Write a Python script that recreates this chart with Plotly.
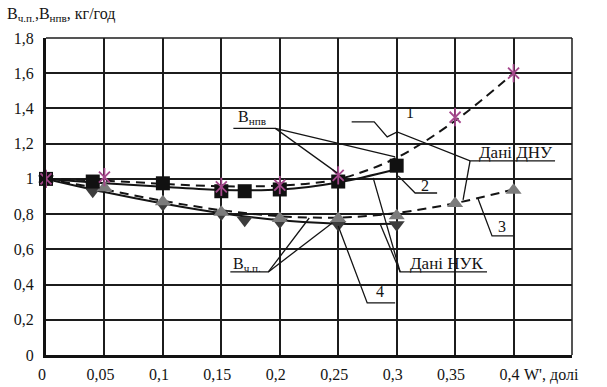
import plotly.graph_objects as go

# ---- data -----------------------------------------------------------------
# ДНУ data, B_нпв (asterisks)
W_dnu_npv = [0.0, 0.05, 0.15, 0.2, 0.25, 0.35, 0.4]
B_dnu_npv = [1.0, 1.01, 0.955, 0.965, 1.02, 1.35, 1.6]

# НУК data, B_нпв (squares)
W_nuk_npv = [0.0, 0.04, 0.1, 0.15, 0.17, 0.2, 0.25, 0.3]
B_nuk_npv = [1.0, 0.985, 0.975, 0.93, 0.93, 0.94, 0.985, 1.075]

# ДНУ data, B_ч.п. (triangles up)
W_dnu_chp = [0.0, 0.05, 0.1, 0.15, 0.2, 0.25, 0.3, 0.35, 0.4]
B_dnu_chp = [1.0, 0.95, 0.87, 0.81, 0.775, 0.775, 0.79, 0.86, 0.935]

# НУК data, B_ч.п. (triangles down)
W_nuk_chp = [0.0, 0.04, 0.1, 0.15, 0.17, 0.2, 0.25, 0.3]
B_nuk_chp = [1.0, 0.93, 0.855, 0.80, 0.765, 0.755, 0.74, 0.74]

# approximating curves 1-4
W_fit_long = [0.0, 0.05, 0.1, 0.15, 0.2, 0.25, 0.3, 0.35, 0.4]
W_fit_short = [0.0, 0.05, 0.1, 0.15, 0.2, 0.25, 0.3]
curve_1 = [1.0, 0.99, 0.972, 0.958, 0.962, 0.998, 1.12, 1.33, 1.6]
curve_2 = [1.0, 0.975, 0.955, 0.937, 0.94, 0.98, 1.055]
curve_3 = [1.0, 0.94, 0.875, 0.822, 0.788, 0.78, 0.806, 0.862, 0.94]
curve_4 = [1.0, 0.925, 0.86, 0.805, 0.765, 0.745, 0.745]

x_ticks = [0, 0.05, 0.1, 0.15, 0.2, 0.25, 0.3, 0.35, 0.4]
x_labels = ["0", "0,05", "0,1", "0,15", "0,2", "0,25", "0,3", "0,35", "0,4"]
y_ticks = [0, 0.2, 0.4, 0.6, 0.8, 1.0, 1.2, 1.4, 1.6, 1.8]
y_labels = ["0", "0,2", "0,4", "0,6", "0,8", "1", "1,2", "1,4", "1,6", "1,8"]

# ---- styling ----------------------------------------------------------------
FONT = "'Liberation Serif', 'Times New Roman', Times, serif"
INK = "#141414"
GRID = "#1c1c1c"
DASH = "9px,6px"

fig = go.Figure()

def curve(x, y, dashed):
    fig.add_trace(go.Scatter(
        x=x, y=y, mode="lines", hoverinfo="skip", cliponaxis=False,
        line=dict(color=INK, width=2, dash=DASH if dashed else "solid",
                  shape="spline", smoothing=0.9)))

curve(W_fit_long, curve_1, True)
curve(W_fit_short, curve_2, False)
curve(W_fit_long, curve_3, True)
curve(W_fit_short, curve_4, False)

def markers(x, y, symbol, color, size, width=0):
    fig.add_trace(go.Scatter(
        x=x, y=y, mode="markers", cliponaxis=False,
        marker=dict(symbol=symbol, size=size, color=color,
                    line=dict(color=color, width=width))))

markers(W_nuk_chp, B_nuk_chp, "triangle-down", "#3c3c3c", 14)
markers(W_dnu_chp, B_dnu_chp, "triangle-up", "#7b7b7b", 14)
markers(W_nuk_npv, B_nuk_npv, "square", "#111111", 14)
markers(W_dnu_npv, B_dnu_npv, "x-thin-open", "#a5488c", 11, 1.8)
markers(W_dnu_npv, B_dnu_npv, "line-ns-open", "#a5488c", 13, 1.8)

# ---- callouts: labels with underlines and leader lines -------------------
shapes = []

def seg(pts, w=1.3):
    path = "M " + " L ".join(f"{x},{y}" for x, y in pts)
    shapes.append(dict(type="path", path=path, xref="x", yref="y",
                       line=dict(color=INK, width=w), layer="above"))

# B_нпв
seg([(0.1603, 1.287), (0.1962, 1.287), (0.249, 1.034)])
seg([(0.1962, 1.287), (0.2987, 1.125)])
# B_ч.п.
seg([(0.1577, 0.4716), (0.1902, 0.4716), (0.2252, 0.778)])
seg([(0.1902, 0.4716), (0.2449, 0.75)])
# Дані НУК
seg([(0.3773, 0.4716), (0.303, 0.4716), (0.2799, 1.006)])
seg([(0.303, 0.4716), (0.2859, 0.744)])
# 4
seg([(0.2987, 0.2955), (0.2748, 0.2955), (0.25, 0.733)])
# 2
seg([(0.3346, 0.92), (0.3158, 0.92), (0.3013, 1.017)])
# 3
seg([(0.3996, 0.676), (0.3816, 0.676), (0.3697, 0.886)])
# 1 and Дані ДНУ
seg([(0.2615, 1.3239), (0.2808, 1.3239), (0.2919, 1.2386), (0.3004, 1.267),
     (0.3628, 1.1023), (0.4355, 1.1023)])
seg([(0.3628, 1.1023), (0.3568, 0.8807)])

# plot frame on the top and right
shapes.append(dict(type="line", xref="paper", yref="paper", x0=0, x1=1, y0=1, y1=1,
                   line=dict(color=GRID, width=1.5)))
shapes.append(dict(type="line", xref="paper", yref="paper", x0=1, x1=1, y0=0, y1=1,
                   line=dict(color=GRID, width=1.5)))

annotations = []

def label(x, y, text, size=16, xanchor="center"):
    annotations.append(dict(x=x, y=y, xref="x", yref="y", text=text, showarrow=False,
                            xanchor=xanchor, yanchor="middle",
                            font=dict(family=FONT, size=size, color=INK)))

label(0.1765, 1.35, "B<sub>нпв</sub>")
label(0.172, 0.515, "B<sub>ч.п.</sub>")
label(0.343, 0.52, "Дані НУК", 17)
label(0.402, 1.152, "Дані ДНУ", 17)
label(0.3115, 1.375, "1")
label(0.3244, 0.96, "2")
label(0.3902, 0.727, "3")
label(0.2859, 0.358, "4")

# axis captions
annotations.append(dict(x=-0.077, y=1.075, xref="paper", yref="paper",
                        text="B<sub>ч.п.</sub>,B<sub>нпв</sub>, кг/год", showarrow=False,
                        xanchor="left", yanchor="middle",
                        font=dict(family=FONT, size=16, color=INK)))
annotations.append(dict(x=0.905, y=-0.063, xref="paper", yref="paper",
                        text="W', долі", showarrow=False,
                        xanchor="left", yanchor="middle",
                        font=dict(family=FONT, size=16, color=INK)))

axis_common = dict(showgrid=True, gridcolor=GRID, gridwidth=1.5,
                   showline=True, linecolor="#111111", linewidth=3,
                   zeroline=False, ticks="", automargin=False,
                   tickfont=dict(family=FONT, size=16, color=INK))

fig.update_layout(
    width=607, height=387,
    margin=dict(l=45.5, r=35, t=38, b=32, pad=0, autoexpand=False),
    paper_bgcolor="white", plot_bgcolor="white",
    showlegend=False,
    xaxis=dict(range=[0, 0.45], tickvals=x_ticks, ticktext=x_labels,
               ticklabelstandoff=3, ticklabelshift=-4, **axis_common),
    yaxis=dict(range=[0, 1.8], tickvals=y_ticks, ticktext=y_labels,
               ticklabelstandoff=6, **axis_common),
    shapes=shapes,
    annotations=annotations,
)

fig.write_html("out.html")
